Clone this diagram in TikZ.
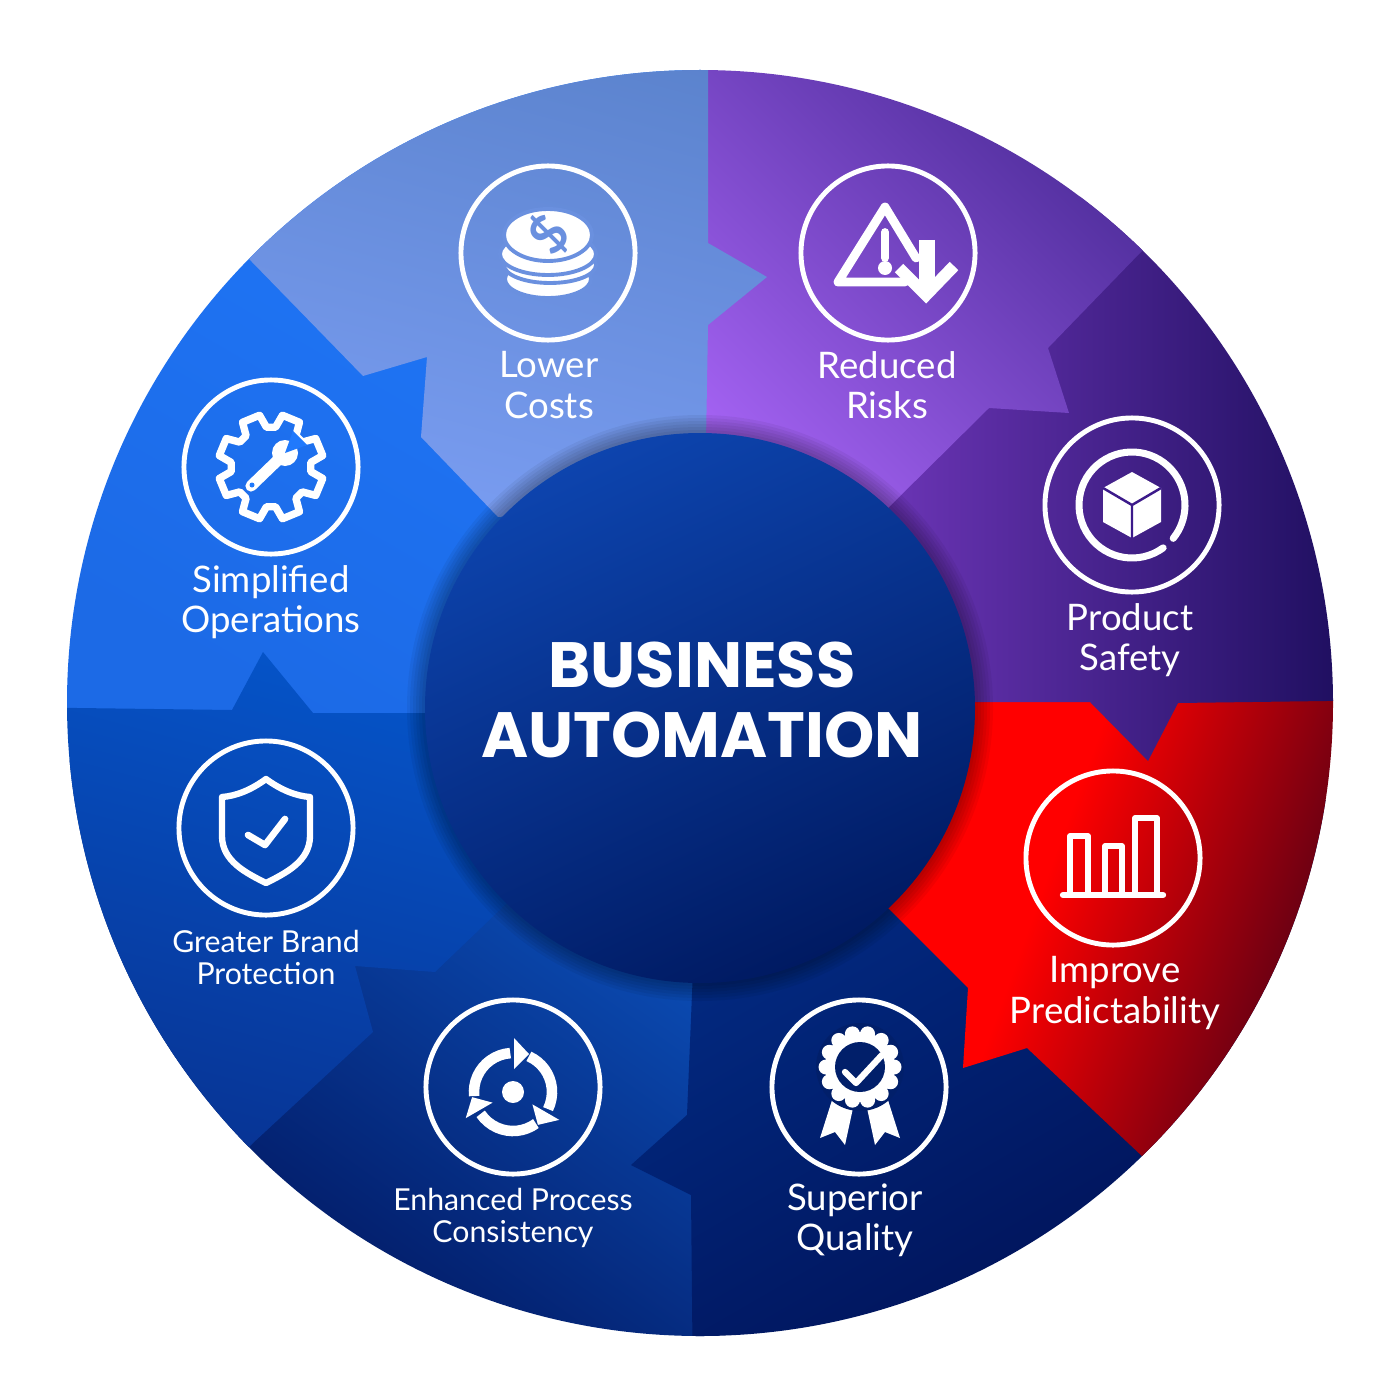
\documentclass[tikz,border=0pt]{standalone}
\usepackage{fontspec}
\setmainfont{Lato}
\newfontfamily\titlefont{Poppins}
\usetikzlibrary{positioning, calc}

\definecolor{lowertop}{HTML}{5A82CC}
\definecolor{lowerbot}{HTML}{7A9DF2}
\definecolor{risktop}{HTML}{40248C}
\definecolor{riskbot}{HTML}{B06AFF}
\definecolor{prodleft}{HTML}{8A44D8}
\definecolor{prodright}{HTML}{150A55}
\definecolor{reddark}{HTML}{500016}
\definecolor{qualtop}{HTML}{022C85}
\definecolor{qualbot}{HTML}{000D4F}
\definecolor{proctop}{HTML}{0C52BE}
\definecolor{procbot}{HTML}{011258}
\definecolor{brandtop}{HTML}{0556CC}
\definecolor{brandbot}{HTML}{082F8C}
\definecolor{simptop}{HTML}{2079FC}
\definecolor{simpbot}{HTML}{1C6AE6}
\definecolor{balltop}{HTML}{0D44AE}
\definecolor{ballbot}{HTML}{001A62}
\definecolor{coinbg}{HTML}{6A90DF}
\definecolor{prodbg}{HTML}{3C1A8A}
\definecolor{qualbg}{HTML}{011F6A}

\tikzset{
  ringnode/.style={circle, draw=white, line width=1.4pt, minimum size=1.74cm, inner sep=0pt},
  biglabel/.style={align=center, text=white, inner sep=0pt, font=\fontsize{10.4}{11.4}\selectfont},
  smalllabel/.style={align=center, text=white, inner sep=0pt, font=\fontsize{8.6}{9.1}\selectfont},
  iconline/.style={draw=white, line width=1.6pt, line join=round, line cap=round},
  coinlayer/.style={fill=white, draw=coinbg, line width=1.1pt},
}

\begin{document}
\begin{tikzpicture}[x=0.01cm, y=-0.01cm]

\useasboundingbox (0,0) rectangle (1400,1400);
\fill[white] (0,0) rectangle (1400,1400);

% Eight arrow shaped segments, clipped by the disc
\begin{scope}
\clip (700,703) circle (633);
\shade[top color=simptop, bottom color=simpbot, shading angle=-30] (60,60) rectangle (710,720);
\shade[top color=proctop, bottom color=procbot, shading angle=-35] (60,760) rectangle (720,1345);
\shade[top color=brandtop, bottom color=brandbot, shading angle=-15] (0,707) -- (232,710) -- (263,652) -- (313,713) -- (700,713) -- (505,905) -- (435,972) -- (355,966) -- (373,1032) -- (253,1143) -- (153,1243) -- (0,1243) -- cycle;
\shade[top color=qualtop, bottom color=qualbot, shading angle=30] (700,800) -- (687,1115) -- (631,1165) -- (691,1195) -- (693,1400) -- (1400,1400) -- (1400,800) -- cycle;
\shade[top color=reddark, bottom color=red, middle color=red, shading angle=-110] (700,700) -- (1340,700) -- (1340,1200) -- (1186,1200) -- (1143,1157) -- (1027,1048) -- (963,1068) -- (968,988) -- (890,910) -- cycle;
\shade[left color=prodleft, right color=prodright] (700,300) -- (1240,153) -- (1400,153) -- (1400,700) -- (1178,703) -- (1148,761) -- (1090,702) -- (700,702) -- cycle;
\shade[top color=risktop, bottom color=riskbot, shading angle=-45] (708,0) -- (1240,0) -- (1240,153) -- (1140,253) -- (1048,348) -- (1069,413) -- (989,408) -- (893,503) -- (700,700) -- cycle;
\shade[top color=lowertop, bottom color=lowerbot, shading angle=-15] (708,0) -- (708,243) -- (767,277) -- (708,325) -- (705,500) -- (498,517) -- (421,437) -- (427,357) -- (363,376) -- (252,262) -- (152,162) -- (152,0) -- cycle;
\end{scope}

% Centre ball with its soft shadow
\foreach \glow in {3,6,...,18}
  \fill[black, opacity=0.05] (700,708) circle (275+\glow);
\shade[top color=balltop, bottom color=ballbot, shading angle=25] (700,708) circle (275);
\node[text=white, align=center, inner sep=0pt, font=\titlefont\bfseries\fontsize{18.2}{20}\selectfont] (title) at (702,700) {BUSINESS\\AUTOMATION};

% Rings
\node[ringnode] (lower) at (548,253) {};
\node[ringnode] (risks) at (888,253) {};
\node[ringnode] (prod) at (1132,505) {};
\node[ringnode] (pred) at (1113,858) {};
\node[ringnode] (qual) at (859,1087) {};
\node[ringnode] (proc) at (513,1087) {};
\node[ringnode] (brand) at (266,828) {};
\node[ringnode] (simp) at (271,467) {};

% Labels
\node[biglabel] (lowertxt) at (549,385) {Lower\\Costs};
\node[biglabel] (riskstxt) at (887,385) {Reduced\\Risks};
\node[biglabel] (prodtxt) at (1130,640) {Product\\Safety};
\node[biglabel] (predtxt) at (1115,993) {Improve\\Predictability};
\node[biglabel] (qualtxt) at (855,1220) {Superior\\Quality};
\node[smalllabel] (proctxt) at (513,1218) {Enhanced Process\\Consistency};
\node[smalllabel] (brandtxt) at (266,957) {Greater Brand\\Protection};
\node[biglabel] (simptxt) at (271,602) {Simplified\\Operations};

% Coins
\begin{scope}[shift={(lower.center)}]
\draw[coinlayer] (0,26) ellipse (43 and 19);
\draw[coinlayer] (2,12) ellipse (46 and 18);
\draw[coinlayer] (0,1) ellipse (48 and 21);
\draw[coinlayer] (0,-18) ellipse (44 and 26);
\node[text=coinbg, rotate=50, inner sep=0pt, font=\bfseries\fontsize{15}{15}\selectfont] (dollar) at (1,-18) {\$};
\end{scope}

% Warning triangle with falling arrow
\begin{scope}[shift={(risks.center)}]
\draw[iconline, line width=2.5pt] (28,5) -- (-3,-46) -- (-50,29) -- (17,29);
\draw[iconline, line width=2.2pt] (-3,-21) -- (-3,5);
\fill[white] (-3,15) circle (7);
\draw[white, line width=4.4pt] (39,-13) -- (39,35);
\draw[white, line width=3.4pt, line join=miter] (11,15) -- (38,42) -- (66,13);
\end{scope}

% Box in a broken ring
\begin{scope}[shift={(prod.center)}]
\draw[iconline, line width=2pt] (54:53) arc (54:399:53);
\fill[white] (0,-33) -- (29,-17) -- (29,17) -- (0,33) -- (-29,17) -- (-29,-17) -- cycle;
\draw[prodbg, line width=0.7pt] (-29,-17) -- (0,0) -- (29,-17) (0,0) -- (0,33);
\end{scope}

% Bars
\begin{scope}[shift={(pred.center)}]
\draw[iconline, line width=1.5pt] (-43,37) -- (-43,-22) -- (-25,-22) -- (-25,37);
\draw[iconline, line width=1.5pt] (-8,37) -- (-8,-12) -- (9,-12) -- (9,37);
\draw[iconline, line width=1.5pt] (22,37) -- (22,-40) -- (44,-40) -- (44,37);
\draw[iconline, line width=1.8pt] (-50,37) -- (50,37);
\end{scope}

% Rosette
\begin{scope}[shift={(qual.center)}]
\fill[white] (-26,10) -- (-6,21) -- (-14,58) -- (-24,45) -- (-39,51) -- cycle;
\fill[white] (28,10) -- (8,21) -- (16,58) -- (26,45) -- (41,51) -- cycle;
\fill[qualbg] (1,-20) circle (44);
\foreach \a in {0,25.71,...,340}
  \fill[white] ($(1,-20)+(\a:34)$) circle (7.5);
\fill[white] (1,-20) circle (35);
\fill[qualbg] (1,-20) circle (25);
\draw[iconline, line width=1.8pt] (-14,-15) -- (-3,-4) -- (23,-32);
\end{scope}

% Cycle arrows
\begin{scope}[shift={(proc.center)}, yshift=-0.05cm]
\foreach \a in {0,120,240} {
  \begin{scope}[rotate=\a]
  \draw[white, line width=3pt] (174:39) arc (174:266:39);
  \fill[white] (1,-54) -- (16,-38) -- (1,-23) -- cycle;
  \end{scope}
}
\fill[white] (0,0) circle (11);
\end{scope}

% Shield
\begin{scope}[shift={(brand.center)}]
\draw[iconline, line width=1.8pt] (0,-49) .. controls (-15,-38) and (-30,-32) .. (-44,-31) -- (-44,8) .. controls (-44,33) and (-20,45) .. (0,55) .. controls (20,45) and (44,33) .. (44,8) -- (44,-31) .. controls (30,-32) and (15,-38) .. (0,-49) -- cycle;
\draw[iconline, line width=1.9pt] (-18,7) -- (-1,17) -- (19,-9);
\end{scope}

% Gear with spanner
\begin{scope}[shift={(simp.center)}]
\draw[iconline, line width=2.1pt] (6.5:40) \foreach \a in {22.5,67.5,...,337.5} { -- (\a-10:53) -- (\a+10:53) -- (\a+16:40) -- (\a+29:40) } -- cycle;
\draw[white, line width=3.2pt, line cap=round] (-20,19) -- (8,-8);
\fill[white] (14,-14) circle (13);
\fill[simptop] (14,-14) -- (36,-22) -- (22,-36) -- cycle;
\fill[simptop] (-19,18) circle (2.5);
\end{scope}

\end{tikzpicture}
\end{document}
